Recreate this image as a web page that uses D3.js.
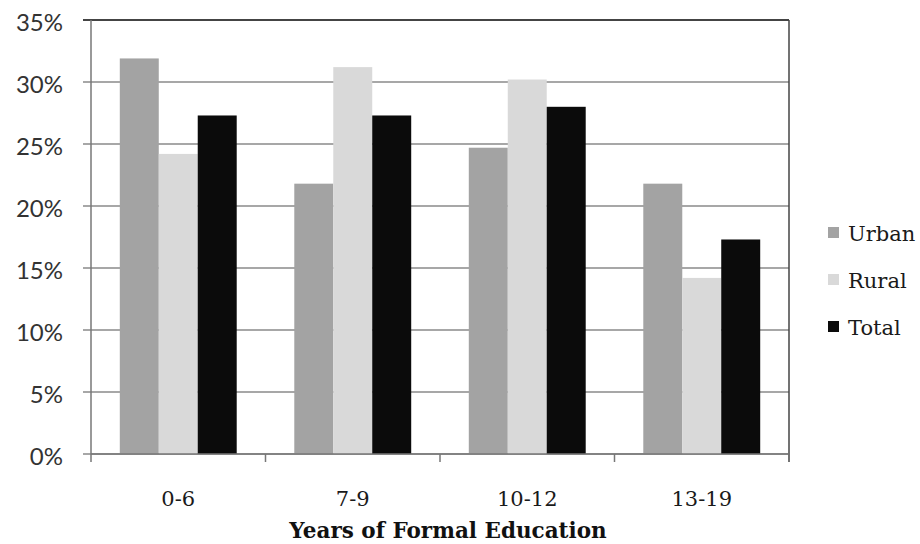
<!DOCTYPE html>
<html>
<head>
<meta charset="utf-8">
<script src="https://cdn.jsdelivr.net/npm/d3@7"></script>
<style>
  html, body { margin: 0; padding: 0; background: #fff; }
  svg { display: block; }
</style>
</head>
<body>
<svg id="chart" width="920" height="544"></svg>
<script>
// Share of respondents by years of formal education
const categories = ["0-6", "7-9", "10-12", "13-19"];
const seriesNames = ["Urban", "Rural", "Total"];
const urban = [31.9, 21.8, 24.7, 21.8];
const rural = [24.2, 31.2, 30.2, 14.2];
const total = [27.3, 27.3, 28.0, 17.3];
const yTicks = [0, 5, 10, 15, 20, 25, 30, 35];
const xTitle = "Years of Formal Education";

const seriesValues = [urban, rural, total];
const colors = ["#a3a3a3", "#d9d9d9", "#0b0b0b"];

const svg = d3.select("#chart");
const plotLeft = 91, plotRight = 789, plotTop = 20, plotBottom = 454;
const serif = "'DejaVu Serif', 'Liberation Serif', serif";

const x = d3.scaleBand().domain(categories).range([plotLeft, plotRight]).paddingInner(0.33).paddingOuter(0.165);
const xs = d3.scaleBand().domain(seriesNames).range([0, x.bandwidth()]);
const y = d3.scaleLinear().domain([0, 35]).range([plotBottom, plotTop]);

// horizontal gridlines, extending left as tick marks
svg.append("g").selectAll("line").data(yTicks).join("line")
  .attr("x1", plotLeft - 8).attr("x2", plotRight)
  .attr("y1", d => y(d)).attr("y2", d => y(d))
  .attr("stroke", d => d === 35 ? "#444" : "#8a8a8a")
  .attr("stroke-width", d => d === 35 ? 2 : 1.5);

// y labels
svg.append("g").selectAll("text").data(yTicks).join("text")
  .attr("x", 63).attr("y", d => y(d) + 2)
  .attr("dy", "0.36em")
  .attr("text-anchor", "end")
  .attr("font-family", "Lato, 'Open Sans', sans-serif")
  .attr("font-size", 24)
  .attr("fill", "#333")
  .text(d => d + "%");

// bars
const groups = svg.append("g").selectAll("g").data(categories).join("g")
  .attr("transform", d => `translate(${x(d)},0)`);
groups.selectAll("rect")
  .data((c, i) => seriesNames.map((s, j) => ({ s, v: seriesValues[j][i], j })))
  .join("rect")
  .attr("x", d => xs(d.s))
  .attr("width", xs.bandwidth())
  .attr("y", d => y(d.v))
  .attr("height", d => y(0) - y(d.v))
  .attr("fill", d => colors[d.j]);

// frame: left and right axis lines, baseline
svg.append("line").attr("x1", plotLeft).attr("x2", plotLeft).attr("y1", plotTop).attr("y2", plotBottom + 8)
  .attr("stroke", "#777").attr("stroke-width", 1.5);
svg.append("line").attr("x1", plotRight).attr("x2", plotRight).attr("y1", plotTop).attr("y2", plotBottom + 8)
  .attr("stroke", "#444").attr("stroke-width", 1.5);
svg.append("line").attr("x1", plotLeft).attr("x2", plotRight).attr("y1", plotBottom).attr("y2", plotBottom)
  .attr("stroke", "#777").attr("stroke-width", 1.5);

// category boundary ticks
const bounds = categories.slice(1).map(c => x(c) - x.step() * x.paddingInner() / 2);
svg.append("g").selectAll("line").data(bounds).join("line")
  .attr("x1", d => d).attr("x2", d => d)
  .attr("y1", plotBottom).attr("y2", plotBottom + 8)
  .attr("stroke", "#777").attr("stroke-width", 1.5);

// category labels
svg.append("g").selectAll("text").data(categories).join("text")
  .attr("x", d => x(d) + x.bandwidth() / 2)
  .attr("y", 506)
  .attr("text-anchor", "middle")
  .attr("font-family", serif)
  .attr("font-size", 21)
  .attr("fill", "#1a1a1a")
  .text(d => d);

// axis title
svg.append("text")
  .attr("x", 448).attr("y", 538)
  .attr("text-anchor", "middle")
  .attr("font-family", serif)
  .attr("font-weight", "bold")
  .attr("font-size", 21.5)
  .attr("fill", "#111")
  .text(xTitle);

// legend
const legend = svg.append("g").selectAll("g").data(seriesNames).join("g")
  .attr("transform", (d, i) => `translate(828,${233 + i * 47})`);
legend.append("rect")
  .attr("x", 0).attr("y", -6).attr("width", 11).attr("height", 11)
  .attr("fill", (d, i) => colors[i]);
legend.append("text")
  .attr("x", 20).attr("y", 1).attr("dy", "0.35em")
  .attr("font-family", serif)
  .attr("font-size", 21)
  .attr("fill", "#1a1a1a")
  .text(d => d);
</script>
</body>
</html>
